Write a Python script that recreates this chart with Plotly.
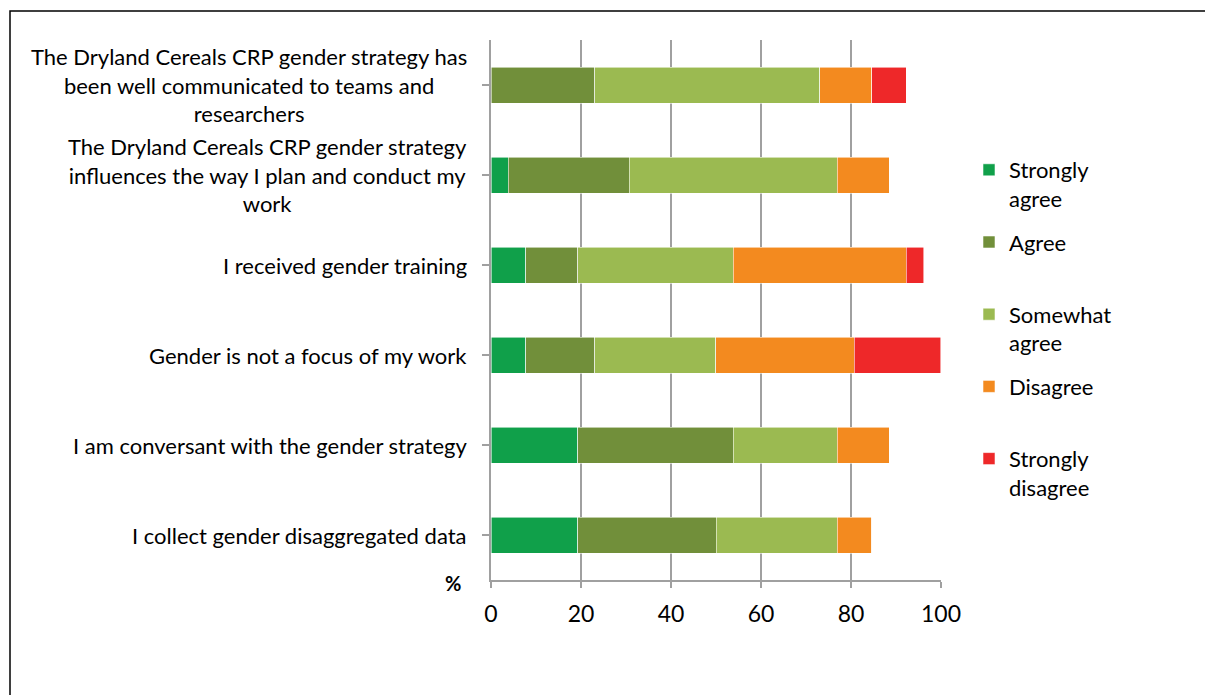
import plotly.graph_objects as go

categories = [
    "The Dryland Cereals CRP gender strategy has<br>been well communicated to teams and<br>researchers",
    "The Dryland Cereals CRP gender strategy<br>influences the way I plan and conduct my<br>work",
    "I received gender training",
    "Gender is not a focus of my work",
    "I am conversant with the gender strategy",
    "I collect gender disaggregated data",
]
series_names = ["Strongly<br>agree", "Agree<br> ", "Somewhat<br>agree", "Disagree<br> ", "Strongly<br>disagree"]
strongly_agree = [0.0, 3.85, 7.69, 7.69, 19.23, 19.23]
agree = [23.08, 26.92, 11.54, 15.38, 34.62, 30.77]
somewhat_agree = [50.0, 46.15, 34.62, 26.92, 23.08, 26.92]
disagree = [11.54, 11.54, 38.46, 30.77, 11.54, 7.69]
strongly_disagree = [7.69, 0.0, 3.85, 19.23, 0.0, 0.0]
x_ticks = [0, 20, 40, 60, 80, 100]
colors = ["#10a04a", "#718f3a", "#9bba51", "#f38a1f", "#ee2829"]

values = [strongly_agree, agree, somewhat_agree, disagree, strongly_disagree]
FONT = "Lato"

fig = go.Figure()
for name, vals, col in zip(series_names, values, colors):
    fig.add_trace(go.Bar(
        y=list(range(len(categories))), x=vals, name=name, orientation="h",
        marker=dict(color=col, line=dict(color="rgba(255,255,255,0.7)", width=0.8)),
        width=0.4, legendgroup=name,
    ))

# page has an 8px body margin, so figure coordinates = page coordinates - 8
W, H = 1205, 687
L, R, T, B = 483, 933, 32, 572
PW, PH = R - L, B - T


def px(xp):
    return (xp - L) / PW


def py(yp):
    return (B - yp) / PH


fig.update_layout(
    width=W, height=H, barmode="stack",
    margin=dict(l=L, r=W - R, t=T, b=H - B, autoexpand=False),
    paper_bgcolor="white", plot_bgcolor="white",
    font=dict(family=FONT, color="black", size=22),
    showlegend=True,
    legend=dict(
        xref="paper", yref="paper", x=px(961), y=py(141),
        xanchor="left", yanchor="top", valign="top",
        font=dict(family=FONT, size=22, color="black"),
        tracegroupgap=12, itemwidth=30, bgcolor="rgba(0,0,0,0)",
    ),
    xaxis=dict(
        range=[0, 100], tickvals=x_ticks, ticktext=[str(v) for v in x_ticks],
        showgrid=True, gridcolor="#a0a0a0", gridwidth=1.5,
        showline=True, linecolor="#a0a0a0", linewidth=1.5,
        ticks="outside", ticklen=6, tickcolor="#a0a0a0", tickwidth=1.5,
        ticklabelstandoff=7,
        tickfont=dict(family=FONT, size=23, color="black"), zeroline=False,
        fixedrange=True,
    ),
    yaxis=dict(
        range=[len(categories) - 0.5, -0.5], tickmode="array",
        tickvals=list(range(len(categories))), ticktext=[""] * len(categories),
        showticklabels=False, showgrid=False,
        showline=True, linecolor="#a0a0a0", linewidth=1.5,
        ticks="outside", ticklen=7, tickcolor="#a0a0a0", tickwidth=1.5,
        tickson="boundaries", zeroline=False, fixedrange=True,
    ),
)

for i, c in enumerate(categories):
    fig.add_annotation(
        x=0, y=i, xref="x", yref="y", text=c, showarrow=False,
        xanchor="right", yanchor="middle", align="center", xshift=-22,
        font=dict(family=FONT, size=22, color="black"),
    )

fig.add_annotation(
    x=px(445), y=py(575), xref="paper", yref="paper", text="<b>%</b>",
    showarrow=False, xanchor="center", yanchor="middle",
    font=dict(family=FONT, size=20, color="black"),
)

fig.add_shape(
    type="rect", xref="paper", yref="paper",
    x0=px(2), x1=px(1230), y0=py(720), y1=py(3),
    line=dict(color="black", width=1.5), fillcolor="rgba(0,0,0,0)", layer="below",
)

fig.write_html("out.html")
